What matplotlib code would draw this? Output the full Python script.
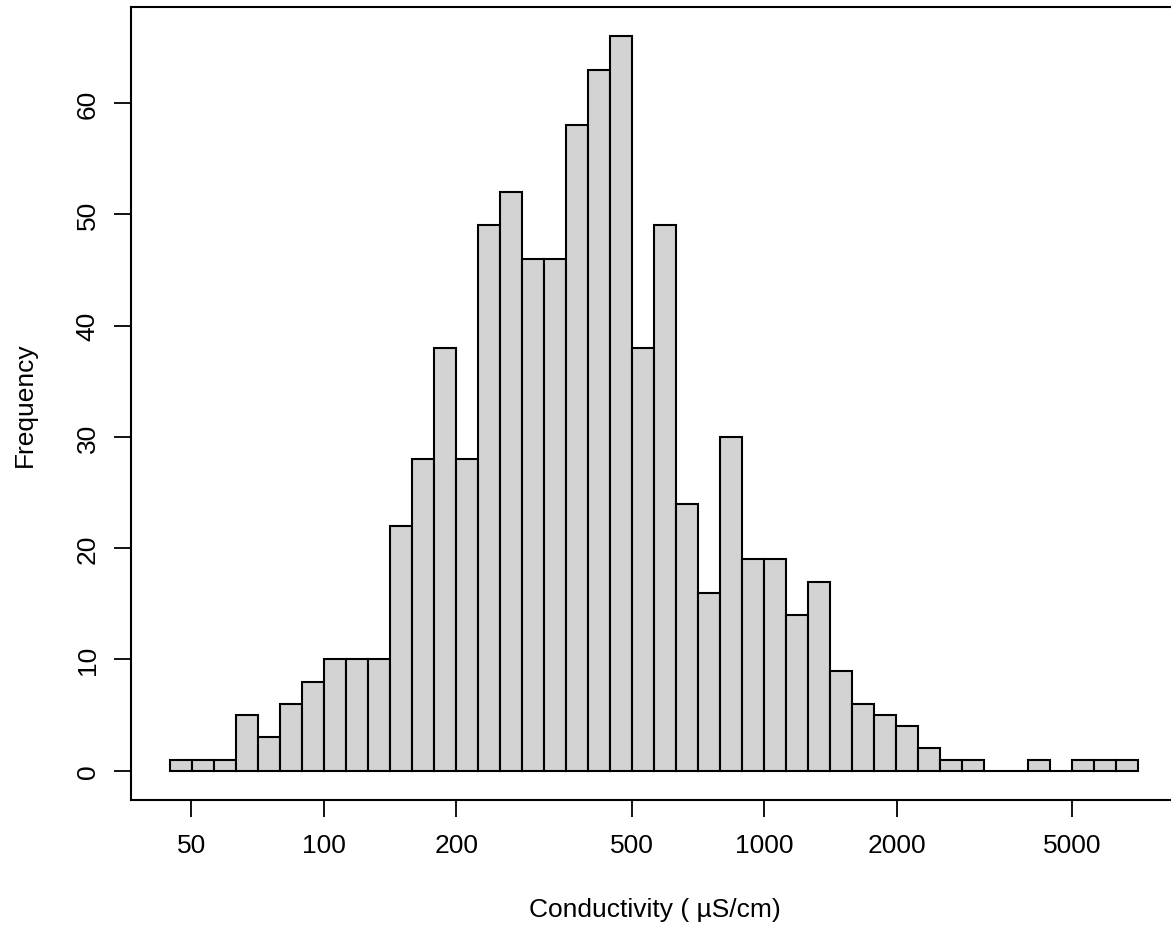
import numpy as np
import matplotlib
matplotlib.use("Agg")
import matplotlib.pyplot as plt

plt.rcParams['font.family'] = ['Liberation Sans', 'DejaVu Sans']

# log10 bin edges (width 0.05) and counts
log_start = 1.65
log_step = 0.05
counts = [1, 1, 1, 5, 3, 6, 8, 10, 10, 10,
          22, 28, 38, 28, 49, 52, 46, 46, 58, 63,
          66, 38, 49, 24, 16, 30, 19, 19, 14, 17,
          9, 6, 5, 4, 2, 1, 1, 0, 0, 1,
          0, 1, 1, 1]
x_ticks = [50, 100, 200, 500, 1000, 2000, 5000]
y_ticks = [0, 10, 20, 30, 40, 50, 60]

W, H = 1171, 928
FS = 19
fig = plt.figure(figsize=(W / 100, H / 100), dpi=100)
left, right, top, bottom = 131, 1177, 8, 801
ax = fig.add_axes([left / W, 1 - bottom / H, (right - left) / W, (bottom - top) / H])

n = len(counts)
log_edges = log_start + log_step * np.arange(n + 1)
ax.bar(log_edges[:-1], counts, width=log_step, align='edge',
       color='#D3D3D3', edgecolor='black', linewidth=1.5)

lo, hi = log_edges[0], log_edges[-1]
ext = 0.04 * (hi - lo)
ax.set_xlim(lo - ext, hi + ext)
ax.set_ylim(-0.04 * max(counts), max(counts) * 1.04)

ax.set_xticks(np.log10(x_ticks))
ax.set_xticklabels([str(t) for t in x_ticks])
ax.set_yticks(y_ticks)
ax.set_yticklabels([str(t) for t in y_ticks], rotation=90, va='center')

ax.tick_params(axis='both', direction='out', length=12.5, width=1.3,
               labelsize=FS, color='black')
ax.tick_params(axis='x', pad=11)
ax.tick_params(axis='y', pad=10)
for s in ax.spines.values():
    s.set_linewidth(1.5)

fig.text(655 / W, 1 - 910 / H, 'Conductivity ( µS/cm)', ha='center', va='center', fontsize=FS)
fig.text(25 / W, 1 - 405 / H, 'Frequency', ha='center', va='center', rotation=90, fontsize=FS)

fig.savefig('out.png', dpi=100)
